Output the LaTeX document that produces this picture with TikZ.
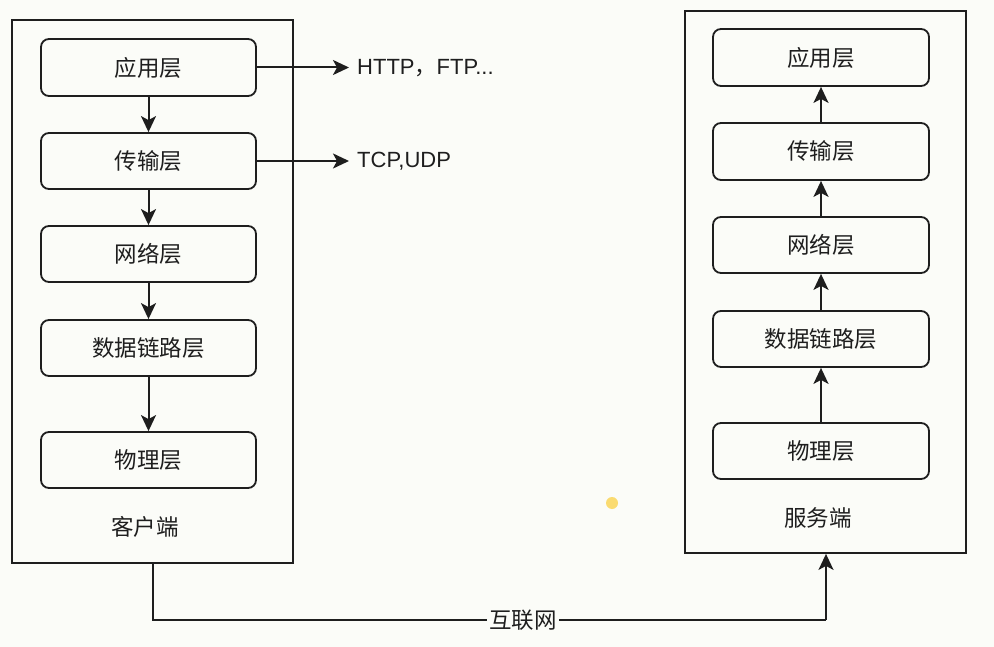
\documentclass[tikz,border=0pt]{standalone}
\usepackage{fontspec}
\setmainfont{Liberation Sans}
\newfontfamily\cjk{Noto Sans CJK SC}
\usetikzlibrary{arrows.meta}
\definecolor{bg}{RGB}{251,252,248}
\definecolor{ink}{RGB}{30,30,30}
\definecolor{dot}{RGB}{250,214,90}
\begin{document}
\begin{tikzpicture}[x=1pt,y=-1pt,
  layer/.style={draw=ink, line width=1.8pt, rounded corners=8pt, minimum width=215pt, minimum height=56pt, inner sep=0pt, font=\cjk\fontsize{22.5}{26}\selectfont, text=ink},
  container/.style={draw=ink, line width=1.8pt, inner sep=0pt},
  lbl/.style={font=\cjk\fontsize{22.5}{26}\selectfont, text=ink, inner sep=1pt},
  latin/.style={font=\fontsize{22}{26}\selectfont, text=ink, inner sep=0pt, anchor=west},
  conn/.style={draw=ink, line width=2pt, -{Stealth[length=16pt,width=15pt,inset=4pt]}},
  plain/.style={draw=ink, line width=2pt}]
\fill[bg] (0,0) rectangle (994,647);
\useasboundingbox (0,0) rectangle (994,647);
% containers
\node[container, minimum width=281pt, minimum height=543pt] (client) at (152.5,291.5) {};
\node[container, minimum width=281pt, minimum height=542pt] (server) at (825.5,282) {};
% left stack
\node[layer, minimum height=57pt] (la) at (148.5,67.5) {应用层};
\node[layer] (lt) at (148.5,161) {传输层};
\node[layer] (ln) at (148.5,254) {网络层};
\node[layer] (ld) at (148.5,348) {数据链路层};
\node[layer] (lp) at (148.5,460) {物理层};
\node[lbl] (clbl) at (145,527) {客户端};
\draw[conn] (la) -- (lt);
\draw[conn] (lt) -- (ln);
\draw[conn] (ln) -- (ld);
\draw[conn] (ld) -- (lp);
% right stack
\node[layer, minimum width=216pt, minimum height=57pt] (ra) at (821,57.5) {应用层};
\node[layer, minimum width=216pt, minimum height=57pt] (rt) at (821,151.5) {传输层};
\node[layer, minimum width=216pt] (rn) at (821,245) {网络层};
\node[layer, minimum width=216pt] (rd) at (821,339) {数据链路层};
\node[layer, minimum width=216pt] (rp) at (821,451) {物理层};
\node[lbl] (slbl) at (818,518) {服务端};
\draw[conn] (rt) -- (ra);
\draw[conn] (rn) -- (rt);
\draw[conn] (rd) -- (rn);
\draw[conn] (rp) -- (rd);
% protocol labels
\node[latin] (http) at (357,68) {HTTP{\cjk ，}FTP...};
\node[latin] (tcp) at (357,161) {TCP,UDP};
\draw[conn, shorten >=8pt] (la.east) -- (la.east -| http.west);
\draw[conn, shorten >=8pt] (lt.east) -- (lt.east -| tcp.west);
% internet link
\coordinate (c1) at (153,620);
\coordinate (c2) at (826,620);
\draw[plain] (client.south -| c1) -- (c1) -- (c2);
\draw[conn] (c2) -- (server.south -| c2);
\node[lbl, fill=bg, inner sep=2pt] (net) at (523,620) {互联网};
% highlight dot
\fill[dot, opacity=0.85] (612,503) circle (6pt);
\end{tikzpicture}
\end{document}
